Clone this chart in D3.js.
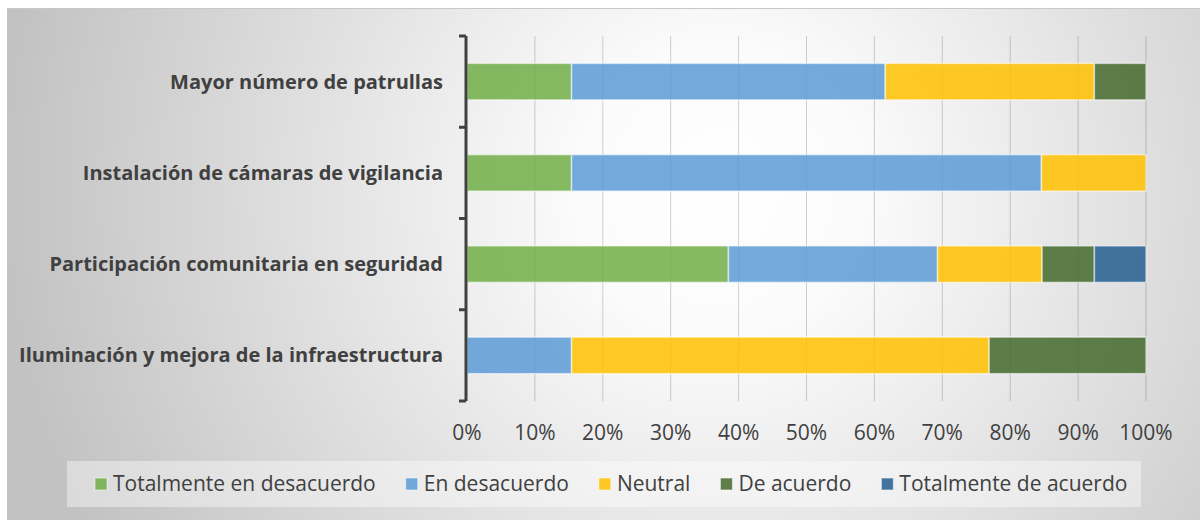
<!DOCTYPE html>
<html>
<head>
<meta charset="utf-8">
<script src="https://cdn.jsdelivr.net/npm/d3@7"></script>
<style>
  body { margin: 0; background: #fff; }
  svg { display: block; }
</style>
</head>
<body>
<div id="chart"></div>
<script>
var width = 1200,
    height = 520,
    margin = {top: 36, right: 54, bottom: 119, left: 467};

var categories = [
  "Mayor número de patrullas",
  "Instalación de cámaras de vigilancia",
  "Participación comunitaria en seguridad",
  "Iluminación y mejora de la infraestructura"
];

var seriesNames = ["Totalmente en desacuerdo", "En desacuerdo", "Neutral", "De acuerdo", "Totalmente de acuerdo"];

// percentages per category, in the order of seriesNames
var totDesacuerdo = [15.4, 15.4, 38.5, 0];
var enDesacuerdo  = [46.2, 69.2, 30.8, 15.4];
var neutral       = [30.8, 15.4, 15.4, 61.5];
var deAcuerdo     = [7.6, 0, 7.7, 23.1];
var totAcuerdo    = [0, 0, 7.6, 0];

var xTicks = [0, 10, 20, 30, 40, 50, 60, 70, 80, 90, 100];

var colors = ["#70ad47", "#5b9bd5", "#ffc000", "#43682b", "#255e91"];

var rows = categories.map(function(c, i) {
  return {
    cat: c,
    v0: totDesacuerdo[i], v1: enDesacuerdo[i], v2: neutral[i], v3: deAcuerdo[i], v4: totAcuerdo[i]
  };
});

var stack = d3.stack().keys(["v0", "v1", "v2", "v3", "v4"]);
var stacked = stack(rows);

var svg = d3.select("#chart").append("svg")
  .attr("width", width)
  .attr("height", height);

// background with radial gradient
var defs = svg.append("defs");
var grad = defs.append("radialGradient")
  .attr("id", "bg")
  .attr("gradientUnits", "userSpaceOnUse")
  .attr("cx", 720).attr("cy", 190).attr("r", 720);
grad.append("stop").attr("offset", "0%").attr("stop-color", "#ffffff");
grad.append("stop").attr("offset", "20%").attr("stop-color", "#fbfbfb");
grad.append("stop").attr("offset", "100%").attr("stop-color", "#c2c2c2");

svg.append("rect")
  .attr("x", 7).attr("y", 8)
  .attr("width", width - 7).attr("height", height - 8)
  .attr("fill", "url(#bg)");
svg.append("line")
  .attr("x1", 7).attr("x2", width)
  .attr("y1", 8.5).attr("y2", 8.5)
  .attr("stroke", "#c8c8c8");

var plotW = width - margin.left - margin.right,
    plotH = height - margin.top - margin.bottom;

var x = d3.scaleLinear().domain([0, 100]).range([margin.left, margin.left + plotW]);
var y = d3.scaleBand().domain(categories)
  .range([margin.top, margin.top + plotH])
  .paddingInner(0.6).paddingOuter(0.3);

// gridlines
svg.append("g")
  .selectAll("line")
  .data(xTicks.slice(1))
  .enter().append("line")
  .attr("x1", function(d) { return x(d); })
  .attr("x2", function(d) { return x(d); })
  .attr("y1", margin.top)
  .attr("y2", margin.top + plotH)
  .attr("stroke", "rgba(0,0,0,0.18)")
  .attr("stroke-width", 1);

// bars
svg.append("g")
  .selectAll("g")
  .data(stacked)
  .enter().append("g")
  .attr("fill", function(d, i) { return colors[i]; })
  .selectAll("rect")
  .data(function(d) { return d.filter(function(p) { return p[1] - p[0] > 0; }); })
  .enter().append("rect")
  .attr("x", function(d) { return x(d[0]); })
  .attr("width", function(d) { return x(d[1]) - x(d[0]); })
  .attr("y", function(d) { return y(d.data.cat); })
  .attr("height", y.bandwidth())
  .attr("fill-opacity", 0.85)
  .attr("stroke", "rgba(255,255,255,0.55)")
  .attr("stroke-width", 1.5);

// x tick labels
svg.append("g")
  .selectAll("text")
  .data(xTicks)
  .enter().append("text")
  .attr("x", function(d) { return x(d); })
  .attr("y", 440)
  .attr("text-anchor", "middle")
  .style("font-family", "'Open Sans', sans-serif")
  .style("font-size", "21px")
  .style("fill", "#404040")
  .text(function(d) { return d + "%"; });

// category axis line and ticks
var step = y.step();
var bounds = d3.range(categories.length + 1).map(function(i) { return margin.top + i * step; });
var axisG = svg.append("g").attr("stroke", "#404040").attr("stroke-width", 3);
axisG.append("line")
  .attr("x1", margin.left - 1).attr("x2", margin.left - 1)
  .attr("y1", margin.top).attr("y2", margin.top + plotH);
axisG.selectAll(".tk")
  .data(bounds)
  .enter().append("line")
  .attr("x1", margin.left - 8).attr("x2", margin.left - 1)
  .attr("y1", function(d) { return d; }).attr("y2", function(d) { return d; });

// category labels
svg.append("g")
  .selectAll("text")
  .data(categories)
  .enter().append("text")
  .attr("x", margin.left - 24)
  .attr("y", function(d) { return y(d) + y.bandwidth() / 2; })
  .attr("dy", "0.35em")
  .attr("text-anchor", "end")
  .style("font-family", "'Open Sans', sans-serif")
  .style("font-weight", "bold")
  .style("font-size", "20px")
  .style("fill", "#404040")
  .text(function(d) { return d; });

// legend
svg.append("rect")
  .attr("x", 67).attr("y", 461)
  .attr("width", 1074).attr("height", 46)
  .attr("fill", "rgba(255,255,255,0.4)");

var legend = svg.append("g");
var lx = 95;
seriesNames.forEach(function(name, i) {
  var g = legend.append("g").attr("transform", "translate(" + lx + ",484)");
  g.append("rect")
    .attr("x", 0).attr("y", -6)
    .attr("width", 12).attr("height", 12)
    .attr("fill", colors[i])
    .attr("fill-opacity", 0.85)
    .attr("stroke", "rgba(255,255,255,0.55)");
  var t = g.append("text")
    .attr("x", 18).attr("y", 0)
    .attr("dy", "0.35em")
    .style("font-family", "'Open Sans', sans-serif")
    .style("font-size", "21px")
    .style("fill", "#404040")
    .text(name);
  lx += 18 + t.node().getComputedTextLength() + 30;
});
</script>
</body>
</html>
